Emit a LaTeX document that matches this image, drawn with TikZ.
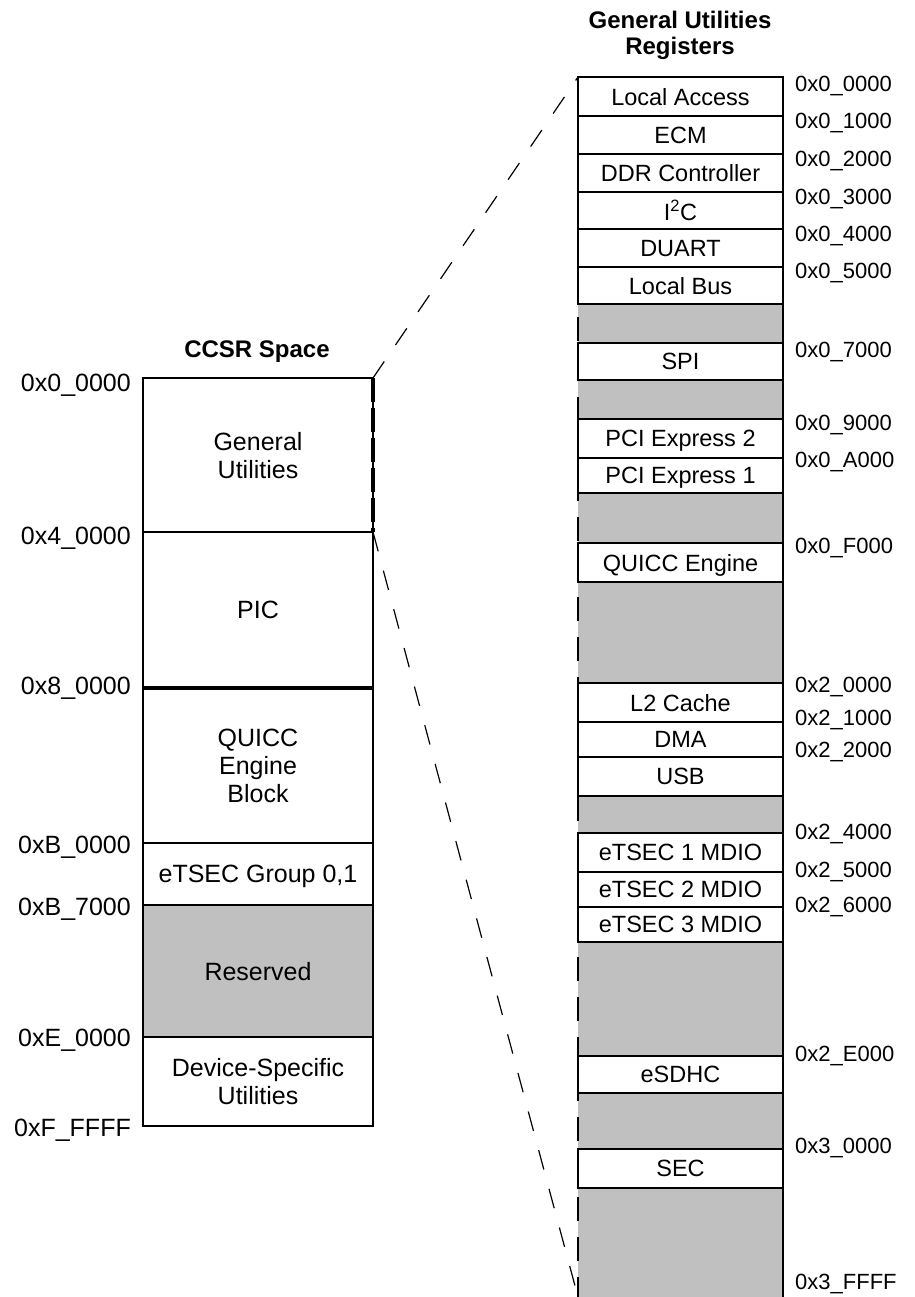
\documentclass[tikz,border=0pt]{standalone}
\usepackage{fontspec}
\setmainfont{Liberation Sans}
\definecolor{resgray}{RGB}{192,192,192}
\begin{document}
\begin{tikzpicture}[x=1pt,y=-1pt,
  edge/.style={line width=1.6pt},
  lbox/.style={draw, line width=1.6pt, minimum width=230pt, inner sep=0pt, outer sep=0pt,
    anchor=north west, align=center, text depth=0pt, font=\fontsize{25}{28}\selectfont},
  rbox/.style={draw, fill=white, line width=1.6pt, minimum width=205pt, inner sep=0pt, outer sep=0pt,
    anchor=north west, align=center, text depth=0pt, font=\fontsize{23.5}{27}\selectfont},
  llab/.style={anchor=east, inner sep=0pt, text depth=0pt, font=\fontsize{25}{28}\selectfont},
  rlab/.style={anchor=west, inner sep=0pt, text depth=0pt, font=\fontsize{22}{26}\selectfont},
  ttl/.style={align=center, inner sep=0pt, font=\bfseries\fontsize{24}{26}\selectfont},
  conn/.style={line width=1.2pt, dash pattern=on 20pt off 20pt}]
\useasboundingbox (0,0) rectangle (914,1297);

% ---------- left column: CCSR space ----------
\node[ttl] (t1) at (257,352) {CCSR Space};
\node[lbox, minimum height=154pt] (gu)  at (143,378)  {General\\Utilities};
\node[lbox, minimum height=156pt] (pic) at (143,532)  {PIC};
\node[lbox, minimum height=155pt] (qeb) at (143,688)  {QUICC\\Engine\\Block};
\node[lbox, minimum height=62pt]  (ets) at (143,843)  {eTSEC Group 0,1};
\node[lbox, minimum height=132pt, fill=resgray] (res) at (143,905) {Reserved};
\node[lbox, minimum height=89pt]  (dsu) at (143,1037) {Device-Specific\\Utilities};
\draw[line width=3.4pt] (pic.south west) -- (pic.south east);
\draw[line width=3.2pt, dash pattern=on 24pt off 6pt] (gu.north east) -- (gu.south east);

\node[llab] (a0) at (131,383)  {0x0\_0000};
\node[llab] (a1) at (131,536)  {0x4\_0000};
\node[llab] (a2) at (131,686)  {0x8\_0000};
\node[llab] (a3) at (131,845)  {0xB\_0000};
\node[llab] (a4) at (131,907)  {0xB\_7000};
\node[llab] (a5) at (131,1038) {0xE\_0000};
\node[llab] (a6) at (131,1128) {0xF\_FFFF};

% ---------- right column: general utilities registers ----------
\node[ttl] (t2) at (680,35) {General Utilities\\Registers};
\node[fill=resgray, inner sep=0pt, outer sep=0pt, anchor=north west,
      minimum width=205pt, minimum height=1220pt] (col) at (578,77) {};
\draw[edge, dash pattern=on 24pt off 16pt] (col.north west) -- (col.south west);
\draw[edge] (col.north east) -- (col.south east);

\node[rbox, minimum height=39pt] (la)   at (578,77)   {Local Access};
\node[rbox, minimum height=38pt] (ecm)  at (578,116)  {ECM};
\node[rbox, minimum height=38pt] (ddr)  at (578,154)  {DDR Controller};
\node[rbox, minimum height=37pt] (i2c)  at (578,192)  {I\textsuperscript{2}C};
\node[rbox, minimum height=38pt] (dua)  at (578,229)  {DUART};
\node[rbox, minimum height=37pt] (lbus) at (578,267)  {Local Bus};
\node[rbox, minimum height=37pt] (spi)  at (578,343)  {SPI};
\node[rbox, minimum height=39pt] (pci2) at (578,419)  {PCI Express 2};
\node[rbox, minimum height=35pt] (pci1) at (578,458)  {PCI Express 1};
\node[rbox, minimum height=39pt] (qe)   at (578,543)  {QUICC Engine};
\node[rbox, minimum height=39pt] (l2)   at (578,683)  {L2 Cache};
\node[rbox, minimum height=35pt] (dma)  at (578,722)  {DMA};
\node[rbox, minimum height=39pt] (usb)  at (578,757)  {USB};
\node[rbox, minimum height=39pt] (e1)   at (578,833)  {eTSEC 1 MDIO};
\node[rbox, minimum height=35pt] (e2)   at (578,872)  {eTSEC 2 MDIO};
\node[rbox, minimum height=35pt] (e3)   at (578,907)  {eTSEC 3 MDIO};
\node[rbox, minimum height=37pt] (sdhc) at (578,1056) {eSDHC};
\node[rbox, minimum height=39pt] (sec)  at (578,1149) {SEC};

\node[rlab] (b0)  at (795,84)   {0x0\_0000};
\node[rlab] (b1)  at (795,121)  {0x0\_1000};
\node[rlab] (b2)  at (795,159)  {0x0\_2000};
\node[rlab] (b3)  at (795,197)  {0x0\_3000};
\node[rlab] (b4)  at (795,234)  {0x0\_4000};
\node[rlab] (b5)  at (795,271)  {0x0\_5000};
\node[rlab] (b6)  at (795,350)  {0x0\_7000};
\node[rlab] (b7)  at (795,423)  {0x0\_9000};
\node[rlab] (b8)  at (795,460)  {0x0\_A000};
\node[rlab] (b9)  at (795,546)  {0x0\_F000};
\node[rlab] (b10) at (795,685)  {0x2\_0000};
\node[rlab] (b11) at (795,718)  {0x2\_1000};
\node[rlab] (b12) at (795,750)  {0x2\_2000};
\node[rlab] (b13) at (795,832)  {0x2\_4000};
\node[rlab] (b14) at (795,870)  {0x2\_5000};
\node[rlab] (b15) at (795,905)  {0x2\_6000};
\node[rlab] (b16) at (795,1054) {0x2\_E000};
\node[rlab] (b17) at (795,1146) {0x3\_0000};
\node[rlab] (b18) at (795,1282) {0x3\_FFFF};

% ---------- expansion connectors ----------
\draw[conn] (gu.north east) -- (col.north west);
\draw[conn] (gu.south east) -- (col.south west);
\end{tikzpicture}
\end{document}
